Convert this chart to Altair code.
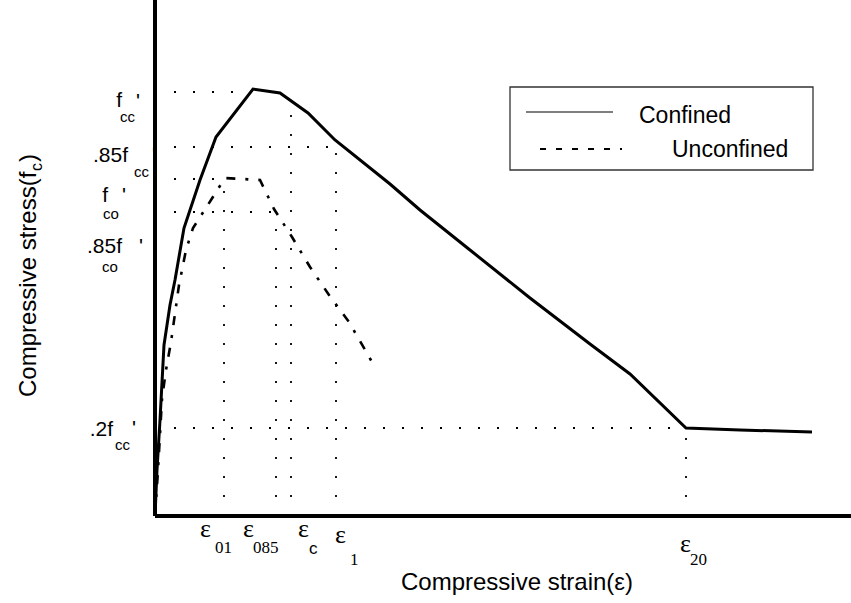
import altair as alt
import pandas as pd

# ---------------- data (strain in per-mille, stress in MPa) ----------------
conf_strain = [0.0, 0.05, 0.125, 0.225, 0.375, 0.5, 0.725, 1.125, 1.525, 2.45, 3.125, 3.825,
               4.5, 5.875, 6.625, 7.875, 9.375, 10.875, 11.875, 13.275, 14.625, 16.425]
conf_stress = [0.0, 4.6, 9.6, 17.1, 21.1, 23.6, 28.8, 33.6, 37.9, 42.7, 42.3, 40.3,
               37.6, 33.2, 30.6, 26.6, 21.8, 17.2, 14.2, 8.8, 8.6, 8.4]

unconf_strain = [0.0, 0.075, 0.175, 0.275, 0.4, 0.6, 0.775, 0.95, 1.4, 1.75, 2.625,
                 2.975, 3.425, 3.875, 4.35, 4.85, 5.425]
unconf_stress = [0.0, 4.6, 11.7, 14.6, 17.4, 23.1, 26.6, 28.8, 31.6, 33.8, 33.6,
                 30.7, 27.9, 24.9, 22.1, 19.4, 15.4]

level_main = ["f", ".85f", "f", ".85f", ".2f"]
level_sub = ["cc", "cc", "co", "co", "cc"]
level_values = [42.4, 36.9, 33.7, 30.4, 8.8]
level_ends = [2.625, 4.525, 1.75, 3.025, 13.275]

strain_subs = ["01", "085", "c", "1", "20"]
strain_values = [1.725, 3.025, 3.4, 4.525, 13.275]
strain_tops = [33.7, 30.4, 40.1, 36.9, 8.8]

legend_labels = ["Confined", "Unconfined"]
x_title = "Compressive strain(\u03b5)"
y_title_main = "Compressive stress(f"
y_title_sub = "c"

# ---------------- styling ----------------
SANS = "Liberation Sans"
SERIF = "Liberation Serif"
W, H = 696, 516
xs = alt.Scale(domain=[0, 17.4], nice=False, zero=False)
ys = alt.Scale(domain=[0, 51.6], nice=False, zero=False)

def X(f):
    return alt.X(f, scale=xs, axis=None)

def Y(f):
    return alt.Y(f, scale=ys, axis=None)

one = pd.DataFrame({"a": [0]})
layers = []

# legend box
layers.append(alt.Chart(one).mark_rect(fill="white", stroke="#333333", strokeWidth=1.3).encode(
    x=alt.value(355), x2=alt.value(658), y=alt.value(87), y2=alt.value(170)))
layers.append(alt.Chart(one).mark_rule(color="#555555", strokeWidth=1.3).encode(
    x=alt.value(371), x2=alt.value(458), y=alt.value(112)))
layers.append(alt.Chart(one).mark_rule(color="black", strokeWidth=2, strokeDash=[6, 10]).encode(
    x=alt.value(385), x2=alt.value(467), y=alt.value(149)))
layers.append(alt.Chart(one).mark_text(text=legend_labels[0], align="left", baseline="alphabetic",
                                       font=SANS, fontSize=23, color="black").encode(
    x=alt.value(484), y=alt.value(123)))
layers.append(alt.Chart(one).mark_text(text=legend_labels[1], align="left", baseline="alphabetic",
                                       font=SANS, fontSize=23, color="black").encode(
    x=alt.value(517), y=alt.value(157)))

# dotted reference lines
hl = pd.DataFrame({"level": level_values, "end": level_ends, "start": [0.0] * len(level_values)})
layers.append(alt.Chart(hl).mark_rule(color="black", strokeWidth=1.8, strokeDash=[2, 17]).encode(
    x=X("start:Q"), x2="end:Q", y=Y("level:Q")))
vl = pd.DataFrame({"strain": strain_values, "top": strain_tops, "bottom": [0.0] * len(strain_values)})
layers.append(alt.Chart(vl).mark_rule(color="black", strokeWidth=1.8, strokeDash=[2, 17]).encode(
    x=X("strain:Q"), y=Y("bottom:Q"), y2="top:Q"))

# curves
cdf = pd.DataFrame({"strain": conf_strain, "stress": conf_stress, "i": range(len(conf_strain))})
udf = pd.DataFrame({"strain": unconf_strain, "stress": unconf_stress, "i": range(len(unconf_strain))})
layers.append(alt.Chart(udf).mark_line(color="black", strokeWidth=2.6, strokeDash=[9, 10, 3, 10]).encode(
    x=X("strain:Q"), y=Y("stress:Q"), order="i:Q"))
layers.append(alt.Chart(cdf).mark_line(color="black", strokeWidth=3).encode(
    x=X("strain:Q"), y=Y("stress:Q"), order="i:Q"))

# axes lines
layers.append(alt.Chart(one).mark_rule(color="black", strokeWidth=4).encode(
    x=alt.value(0), y=alt.value(0), y2=alt.value(H)))
layers.append(alt.Chart(one).mark_rule(color="black", strokeWidth=4).encode(
    x=alt.value(0), x2=alt.value(W), y=alt.value(H)))

# y level labels (f_cc', .85f_cc, ...)
main_x = [-33, -27, -47, -33, -42]
main_dy = [15, 15, 23, 41, 8]
sub_x = [-35, -21, -52, -53, -40]
sub_dy = [30, 30, 40, 60, 22]
prime_x = [-19, -3, -33, -16, -23]
prime_dy = [16, 15, 23, 41, 7]
for i in range(len(level_values)):
    d = pd.DataFrame({"level": [level_values[i]]})
    layers.append(alt.Chart(d).mark_text(text=level_main[i], align="right", baseline="alphabetic",
                                         dy=main_dy[i], font=SANS, fontSize=21, color="black").encode(
        x=alt.value(main_x[i]), y=Y("level:Q")))
    layers.append(alt.Chart(d).mark_text(text=level_sub[i], align="left", baseline="alphabetic",
                                         dy=sub_dy[i], font=SANS, fontSize=15, color="black").encode(
        x=alt.value(sub_x[i]), y=Y("level:Q")))
    layers.append(alt.Chart(d).mark_text(text="'", align="left", baseline="alphabetic",
                                         dy=prime_dy[i], font=SANS, fontSize=21, color="black").encode(
        x=alt.value(prime_x[i]), y=Y("level:Q")))

# x strain labels (epsilon with subscripts)
eps_dx = [-24, -33, 7, -1, -6]
eps_base = [537, 537, 537, 543, 552]
sub_dx = [-9, -23, 18, 14, 4]
sub_base = [553, 553, 554, 565, 565]
for i in range(len(strain_values)):
    d = pd.DataFrame({"strain": [strain_values[i]]})
    layers.append(alt.Chart(d).mark_text(text="\u03b5", align="left", baseline="alphabetic",
                                         dx=eps_dx[i], font=SERIF, fontSize=26, color="black").encode(
        x=X("strain:Q"), y=alt.value(eps_base[i])))
    layers.append(alt.Chart(d).mark_text(text=strain_subs[i], align="left", baseline="alphabetic",
                                         dx=sub_dx[i], font=(SANS if strain_subs[i] == "c" else SERIF),
                                         fontSize=17, color="black").encode(
        x=X("strain:Q"), y=alt.value(sub_base[i])))

# axis titles
layers.append(alt.Chart(one).mark_text(text=x_title, align="center", baseline="alphabetic",
                                       font=SANS, fontSize=24, color="black").encode(
    x=alt.value(362), y=alt.value(590)))
layers.append(alt.Chart(one).mark_text(text=y_title_main, align="left", baseline="alphabetic", angle=270,
                                       font=SANS, fontSize=24, color="black").encode(
    x=alt.value(-119), y=alt.value(397)))
layers.append(alt.Chart(one).mark_text(text=y_title_sub, align="left", baseline="alphabetic", angle=270,
                                       font=SANS, fontSize=16, color="black").encode(
    x=alt.value(-113), y=alt.value(171)))
layers.append(alt.Chart(one).mark_text(text=")", align="left", baseline="alphabetic", angle=270,
                                       font=SANS, fontSize=24, color="black").encode(
    x=alt.value(-119), y=alt.value(162)))

chart = alt.layer(*layers).properties(
    width=W, height=H,
    padding={"left": 155, "top": 0, "right": 0, "bottom": 87},
    autosize=alt.AutoSizeParams(type="none"),
    background="white",
).configure_view(strokeWidth=0)

chart.save("out.html", embed_options={"renderer": "svg", "actions": False})
